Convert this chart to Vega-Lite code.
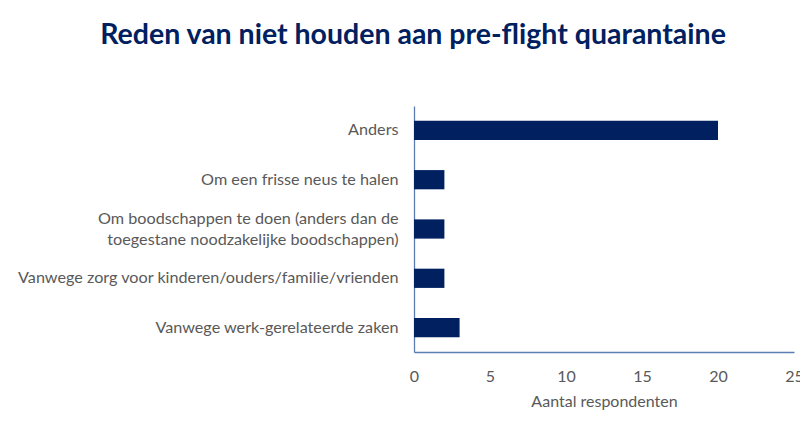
{
  "$schema": "https://vega.github.io/schema/vega-lite/v6.json",
  "autosize": "none",
  "width": 380,
  "height": 246,
  "padding": {"left": 414, "top": 106, "right": 6, "bottom": 73},
  "background": "white",
  "title": {
    "text": "Reden van niet houden aan pre-flight quarantaine",
    "font": "Lato",
    "fontSize": 28.5,
    "fontWeight": "bold",
    "color": "#002060",
    "anchor": "middle",
    "dx": -191,
    "offset": 57
  },
  "data": {
    "values": [
      {"reden": "Anders", "aantal": 20, "volgorde": 1},
      {"reden": "Om een frisse neus te halen", "aantal": 2, "volgorde": 2},
      {"reden": "Om boodschappen te doen (anders dan de|toegestane noodzakelijke boodschappen)", "aantal": 2, "volgorde": 3},
      {"reden": "Vanwege zorg voor kinderen/ouders/familie/vrienden", "aantal": 2, "volgorde": 4},
      {"reden": "Vanwege werk-gerelateerde zaken", "aantal": 3, "volgorde": 5}
    ]
  },
  "mark": {"type": "bar", "color": "#002060"},
  "encoding": {
    "y": {
      "field": "reden",
      "type": "nominal",
      "sort": {"field": "volgorde", "order": "ascending"},
      "scale": {"paddingInner": 0.61, "paddingOuter": 0.3},
      "axis": {
        "title": null,
        "labelExpr": "split(datum.label, '|')",
        "labelFont": "Lato",
        "labelFontSize": 16.2,
        "labelColor": "#595959",
        "labelLineHeight": 21,
        "labelLimit": 420,
        "labelPadding": 16,
        "labelOffset": {"condition": {"test": "indexof(datum.value, '|') >= 0", "value": -10}, "value": 0},
        "ticks": false,
        "domainColor": "#5b7db1",
        "domainWidth": 1.3
      }
    },
    "x": {
      "field": "aantal",
      "type": "quantitative",
      "scale": {"domain": [0, 25], "nice": false},
      "axis": {
        "title": "Aantal respondenten",
        "values": [0, 5, 10, 15, 20, 25],
        "grid": false,
        "ticks": false,
        "labelFont": "Lato",
        "labelFontSize": 16,
        "labelColor": "#595959",
        "labelPadding": 16,
        "labelFlush": false,
        "titleFont": "Lato",
        "titleFontSize": 16,
        "titleFontWeight": "normal",
        "titleColor": "#595959",
        "titlePadding": 9,
        "domainColor": "#5b7db1",
        "domainWidth": 1.3
      }
    }
  },
  "config": {"view": {"stroke": null}}
}
